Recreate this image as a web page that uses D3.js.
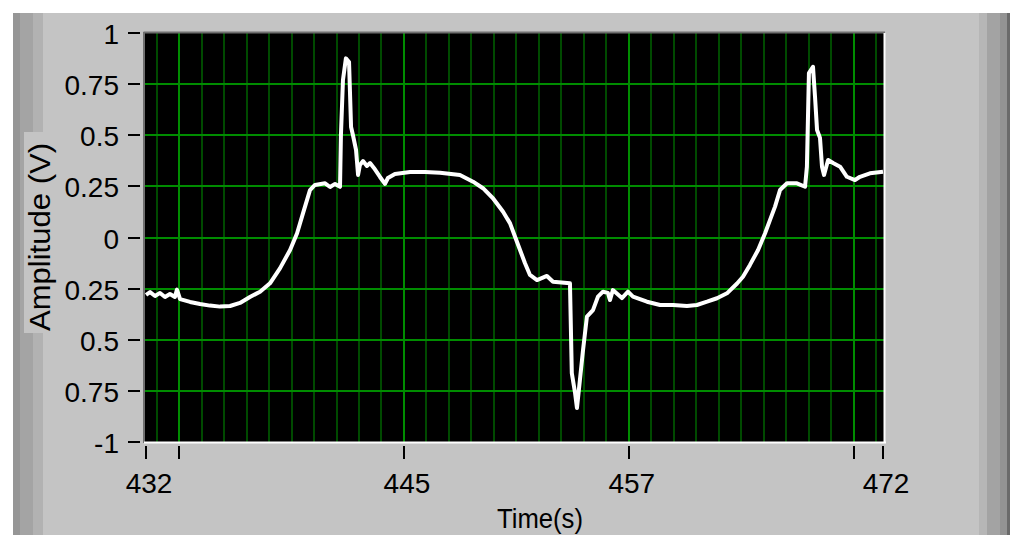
<!DOCTYPE html>
<html><head><meta charset="utf-8">
<script src="https://cdn.jsdelivr.net/npm/d3@7/dist/d3.min.js"></script>
<style>
html,body{margin:0;padding:0;background:#fff;}
svg{display:block;}
text{font-family:"Liberation Sans",Arial,sans-serif;fill:#000;}
</style></head>
<body>
<svg id="chart" width="1024" height="549"></svg>
<script>
// ---- data ----
const timeValues = [432.00,432.22,432.49,432.76,433.03,433.30,433.57,433.68,433.85,434.39,434.93,435.47,436.02,436.56,437.10,437.64,438.19,438.73,439.27,439.82,440.20,440.52,440.90,441.17,441.72,441.99,442.26,442.53,442.58,442.69,442.85,443.02,443.13,443.23,443.40,443.51,443.61,443.78,443.99,444.16,444.37,444.70,444.97,445.13,445.51,446.33,447.14,447.96,449.04,449.75,450.29,450.83,451.38,451.76,452.03,452.30,452.57,452.84,453.22,453.76,454.09,455.01,455.11,455.28,455.39,455.55,455.72,455.93,456.26,456.53,456.80,457.07,457.18,457.34,457.83,458.16,458.43,459.19,459.90,460.60,461.36,461.90,462.45,462.99,463.53,464.08,464.40,464.78,465.22,465.60,465.87,466.14,466.41,466.79,467.33,467.77,467.87,467.98,468.20,468.31,468.42,468.58,468.69,468.80,469.02,469.29,469.67,470.04,470.48,470.75,471.29,472.00];
const amplitudeValues = [-0.281,-0.267,-0.286,-0.271,-0.291,-0.276,-0.291,-0.255,-0.301,-0.315,-0.325,-0.333,-0.338,-0.335,-0.320,-0.291,-0.265,-0.224,-0.151,-0.061,0.021,0.118,0.232,0.257,0.265,0.247,0.262,0.248,0.501,0.770,0.876,0.858,0.540,0.501,0.428,0.306,0.355,0.374,0.350,0.364,0.340,0.296,0.262,0.291,0.311,0.320,0.320,0.317,0.306,0.273,0.241,0.192,0.126,0.069,0.004,-0.061,-0.126,-0.183,-0.208,-0.188,-0.216,-0.224,-0.663,-0.756,-0.834,-0.697,-0.550,-0.387,-0.355,-0.289,-0.265,-0.271,-0.306,-0.257,-0.296,-0.265,-0.289,-0.314,-0.330,-0.330,-0.335,-0.330,-0.314,-0.297,-0.273,-0.225,-0.192,-0.134,-0.061,0.021,0.086,0.151,0.232,0.265,0.265,0.248,0.346,0.804,0.835,0.689,0.526,0.487,0.346,0.306,0.379,0.364,0.346,0.297,0.281,0.297,0.314,0.322];
const timeDomain = [432, 472];
const xMajorTicks = [433.8, 446.0, 458.2, 470.4];
const xMinorPerMajor = 10;
const xTickValues = [432, 433.8, 446.0, 458.2, 470.4, 472];
const xLabelValues = [432, 446.0, 458.2, 472];
const xLabelTexts = ["432", "445", "457", "472"];
const yTickValues = [-1, -0.75, -0.5, -0.25, 0, 0.25, 0.5, 0.75, 1];
const yTickLabels = ["-1", "0.75", "0.5", "0.25", "0", "0.25", "0.5", "0.75", "1"];
const xTitle = "Time(s)";
const yTitle = "Amplitude (V)";

// ---- layout ----
const svg = d3.select("#chart");
const P = {l: 146, r: 883, t: 33, b: 442};
const x = d3.scaleLinear().domain(timeDomain).range([P.l, P.r]);
const y = d3.scaleLinear().domain([-1, 1]).range([P.b, P.t]);
const bg = "#c4c4c4";

// panel
svg.append("rect").attr("x", 13).attr("y", 13).attr("width", 997).attr("height", 522).attr("fill", bg);
[[13, 7, "#969696"], [20, 13, "#a4a4a4"], [33, 10, "#b2b2b2"]].forEach(b =>
  svg.append("rect").attr("x", b[0]).attr("y", 13).attr("width", b[1]).attr("height", 522).attr("fill", b[2]));
[[979, 8, "#b6b6b6"], [987, 13, "#a3a3a3"], [1000, 7, "#939393"], [1007, 3, "#6a6a6a"]].forEach(b =>
  svg.append("rect").attr("x", b[0]).attr("y", 13).attr("width", b[1]).attr("height", 522).attr("fill", b[2]));

// plot area
svg.append("rect").attr("x", 144).attr("y", 32).attr("width", 741).attr("height", 411).attr("fill", "#000");
svg.append("defs").append("clipPath").attr("id", "clip")
  .append("rect").attr("x", 145).attr("y", 33).attr("width", 739).attr("height", 409);

const grid = svg.append("g").attr("clip-path", "url(#clip)");
const step = (xMajorTicks[1] - xMajorTicks[0]) / xMinorPerMajor;
const minor = [];
for (let k = -xMinorPerMajor; k <= xMinorPerMajor * 4; k++) {
  const v = xMajorTicks[0] + k * step;
  if (v > timeDomain[0] && v < timeDomain[1] && k % xMinorPerMajor !== 0) minor.push(v);
}
grid.selectAll("line.minor").data(minor).enter().append("line")
  .attr("x1", d => Math.round(x(d))).attr("x2", d => Math.round(x(d))).attr("y1", P.t).attr("y2", P.b)
  .attr("stroke", "#004a00").attr("stroke-width", 2);
grid.selectAll("line.majx").data(xMajorTicks).enter().append("line")
  .attr("x1", d => Math.round(x(d))).attr("x2", d => Math.round(x(d))).attr("y1", P.t).attr("y2", P.b)
  .attr("stroke", "#008c00").attr("stroke-width", 2);
grid.selectAll("line.majy").data(yTickValues.slice(1, -1)).enter().append("line")
  .attr("x1", P.l - 2).attr("x2", P.r + 2).attr("y1", d => Math.round(y(d))).attr("y2", d => Math.round(y(d)))
  .attr("stroke", "#008c00").attr("stroke-width", 2);

// waveform
const pts = timeValues.map((t, i) => [t, amplitudeValues[i]]);
grid.append("path").datum(pts)
  .attr("d", d3.line().x(d => x(d[0])).y(d => y(d[1])))
  .attr("fill", "none").attr("stroke", "#fff").attr("stroke-width", 4)
  .attr("stroke-linejoin", "round");

// frame
svg.append("line").attr("x1", 143.5).attr("x2", 885).attr("y1", 32.5).attr("y2", 32.5).attr("stroke", "#707070").attr("stroke-width", 2);
svg.append("line").attr("x1", 144).attr("x2", 144).attr("y1", 32).attr("y2", 443).attr("stroke", "#707070").attr("stroke-width", 2);
svg.append("line").attr("x1", 144).attr("x2", 886).attr("y1", 442.5).attr("y2", 442.5).attr("stroke", "#fff").attr("stroke-width", 2);
svg.append("line").attr("x1", 884.5).attr("x2", 884.5).attr("y1", 33).attr("y2", 443).attr("stroke", "#fff").attr("stroke-width", 2);

// y axis
const yAx = svg.append("g");
yAx.selectAll("line").data(yTickValues).enter().append("line")
  .attr("x1", 128).attr("x2", 140).attr("y1", d => Math.round(y(d))).attr("y2", d => Math.round(y(d)))
  .attr("stroke", "#000").attr("stroke-width", 2);
yAx.selectAll("text").data(yTickValues).enter().append("text")
  .attr("x", 119).attr("y", d => y(d) + 11).attr("text-anchor", "end")
  .attr("font-size", 28).text((d, i) => yTickLabels[i]);

// x axis
const xAx = svg.append("g");
xAx.selectAll("line").data(xTickValues).enter().append("line")
  .attr("x1", d => Math.round(x(d))).attr("x2", d => Math.round(x(d))).attr("y1", 446).attr("y2", 459)
  .attr("stroke", "#000").attr("stroke-width", 2);
xAx.selectAll("text").data(xLabelValues).enter().append("text")
  .attr("x", d => x(d)).attr("dx", 3).attr("y", 493).attr("text-anchor", "middle")
  .attr("font-size", 28).text((d, i) => xLabelTexts[i]);

// titles
svg.append("text").attr("x", 540).attr("y", 528).attr("text-anchor", "middle")
  .attr("font-size", 27).attr("textLength", 86).attr("lengthAdjust", "spacingAndGlyphs").text(xTitle);
svg.append("rect").attr("x", 24).attr("y", 132).attr("width", 36).attr("height", 201).attr("fill", bg);
svg.append("text").attr("transform", "translate(50,237) rotate(-90)").attr("text-anchor", "middle")
  .attr("font-size", 29).attr("textLength", 188).attr("lengthAdjust", "spacingAndGlyphs").text(yTitle);
</script>
</body></html>
